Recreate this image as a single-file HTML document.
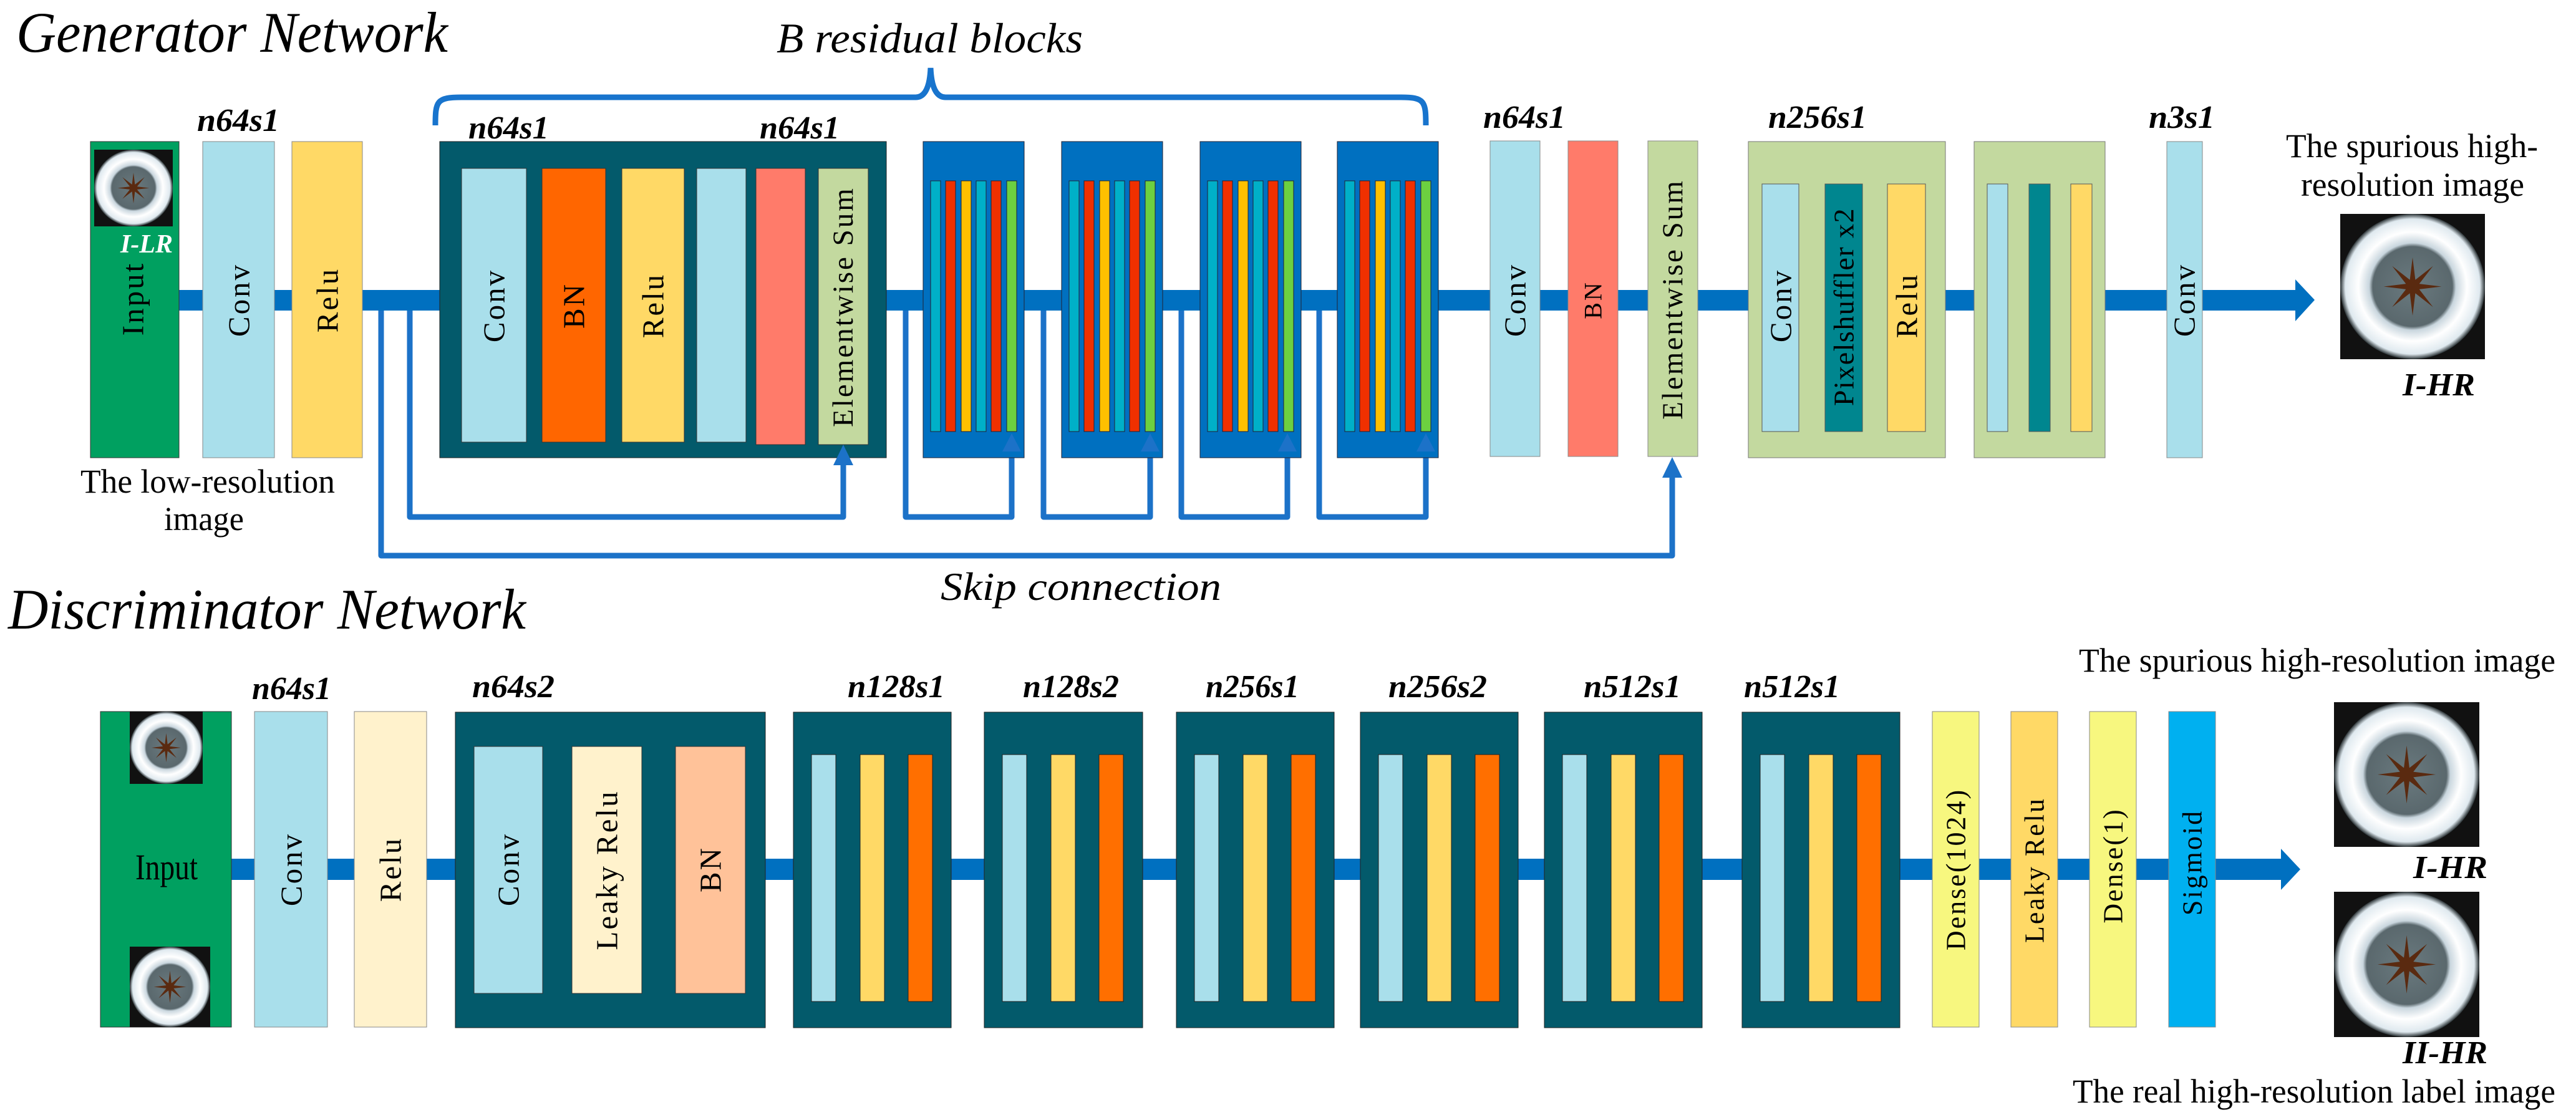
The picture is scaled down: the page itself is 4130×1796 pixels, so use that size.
<!DOCTYPE html>
<html><head><meta charset="utf-8"><style>
html,body{margin:0;padding:0;background:#fff}
svg{display:block}
text{font-family:"Liberation Serif",serif}
.v{font-size:49px;letter-spacing:3px;text-anchor:middle;dominant-baseline:central}
.lab{font-size:52px;font-weight:bold;font-style:italic}
.t{font-size:54px}
</style></head><body>
<svg width="4130" height="1796" viewBox="0 0 4130 1796" xmlns="http://www.w3.org/2000/svg" font-family="'Liberation Serif', serif">
<defs>
<radialGradient id="ring" cx="50%" cy="50%" r="50%">
<stop offset="0" stop-color="#6a7a7f"/><stop offset="0.55" stop-color="#5a686d"/>
<stop offset="0.6" stop-color="#c9d6de"/><stop offset="0.75" stop-color="#ffffff"/>
<stop offset="0.93" stop-color="#dfe9ef"/><stop offset="1" stop-color="#2a3235"/>
</radialGradient>
<symbol id="img" viewBox="0 0 100 100" preserveAspectRatio="none">
<rect width="100" height="100" fill="#111"/>
<circle cx="50" cy="50" r="50" fill="url(#ring)"/>
<polygon fill="#5a2a10" points="70,50 54.6,51.9 64.1,64.1 51.9,54.6 50,70 48.1,54.6 35.9,64.1 45.4,51.9 30,50 45.4,48.1 35.9,35.9 48.1,45.4 50,30 51.9,45.4 64.1,35.9 54.6,48.1"/>
</symbol>
</defs>

<!-- ===== Generator ===== -->
<text x="26" y="83" font-size="92" font-style="italic" textLength="692" lengthAdjust="spacingAndGlyphs">Generator Network</text>
<text x="1245" y="84" font-size="68" font-style="italic" textLength="491" lengthAdjust="spacingAndGlyphs">B residual blocks</text>
<path d="M698,201 C698,162 700,156 740,156 L1468,156 Q1490,156 1492,109 Q1494,156 1516,156 L2246,156 C2284,156 2286,162 2286,201" fill="none" stroke="#1874cd" stroke-width="9"/>

<rect x="287" y="465" width="3396" height="33" fill="#0070c0"/>
<polygon points="3680,448 3711,481 3680,515" fill="#0070c0"/>

<g fill="none" stroke="#1c72c8" stroke-width="9" stroke-linejoin="round">
<polyline points="611,498 611,891 2681,891 2681,765"/>
<polyline points="657,498 657,829 1352,829 1352,745"/>
<polyline points="1452,498 1452,829 1622,829 1622,723"/>
<polyline points="1673,498 1673,829 1844,829 1844,723"/>
<polyline points="1894,498 1894,829 2064,829 2064,723"/>
<polyline points="2115,498 2115,829 2286,829 2286,723"/>
</g>

<rect x="145" y="227" width="142" height="507" fill="#00a060" stroke="#333" stroke-width="1"/>
<use href="#img" x="151" y="240" width="126" height="123"/>
<text x="277" y="405" font-size="42" font-weight="bold" font-style="italic" fill="#fff" text-anchor="end">I-LR</text>
<text class="v" transform="translate(213,479) rotate(-90)">Input</text>
<rect x="325" y="227" width="115" height="507" fill="#a9dfeb" stroke="#888" stroke-width="1"/>
<text class="v" transform="translate(383,481) rotate(-90)">Conv</text>
<rect x="468" y="227" width="113" height="507" fill="#ffd966" stroke="#888" stroke-width="1"/>
<text class="v" transform="translate(525,481) rotate(-90)">Relu</text>
<text class="lab" x="316" y="210" textLength="132" lengthAdjust="spacingAndGlyphs">n64s1</text>

<rect x="705" y="227" width="716" height="507" fill="#035a6b" stroke="#222" stroke-width="1"/>
<rect x="740" y="270" width="104" height="439" fill="#a9dfeb" stroke="#333"/>
<text class="v" transform="translate(792,490) rotate(-90)">Conv</text>
<rect x="869" y="270" width="102" height="439" fill="#ff6600" stroke="#333"/>
<text class="v" transform="translate(920,490) rotate(-90)">BN</text>
<rect x="997" y="270" width="100" height="439" fill="#ffd966" stroke="#333"/>
<text class="v" transform="translate(1047,490) rotate(-90)">Relu</text>
<rect x="1117" y="270" width="79" height="439" fill="#a9dfeb" stroke="#333"/>
<rect x="1212" y="270" width="79" height="443" fill="#ff7b6a" stroke="#333"/>
<rect x="1312" y="270" width="80" height="443" fill="#c3d99f" stroke="#333"/>
<text class="v" transform="translate(1352,492) rotate(-90)" style="font-size:47px">Elementwise Sum</text>
<text class="lab" x="751" y="222" textLength="129" lengthAdjust="spacingAndGlyphs">n64s1</text>
<text class="lab" x="1218" y="222" textLength="128" lengthAdjust="spacingAndGlyphs">n64s1</text>

<g stroke="#223" stroke-width="1">
<rect x="1480" y="227" width="162" height="507" fill="#0070c0"/>
<rect x="1492" y="290" width="16" height="402" fill="#00b0c8"/><rect x="1516" y="290" width="16" height="402" fill="#f03000"/><rect x="1541" y="290" width="16" height="402" fill="#ffc000"/><rect x="1565" y="290" width="16" height="402" fill="#00b0c8"/><rect x="1589" y="290" width="16" height="402" fill="#f03000"/><rect x="1614" y="290" width="16" height="402" fill="#6cd040"/>
<rect x="1702" y="227" width="162" height="507" fill="#0070c0"/>
<rect x="1714" y="290" width="16" height="402" fill="#00b0c8"/><rect x="1738" y="290" width="16" height="402" fill="#f03000"/><rect x="1763" y="290" width="16" height="402" fill="#ffc000"/><rect x="1787" y="290" width="16" height="402" fill="#00b0c8"/><rect x="1811" y="290" width="16" height="402" fill="#f03000"/><rect x="1836" y="290" width="16" height="402" fill="#6cd040"/>
<rect x="1924" y="227" width="162" height="507" fill="#0070c0"/>
<rect x="1936" y="290" width="16" height="402" fill="#00b0c8"/><rect x="1960" y="290" width="16" height="402" fill="#f03000"/><rect x="1985" y="290" width="16" height="402" fill="#ffc000"/><rect x="2009" y="290" width="16" height="402" fill="#00b0c8"/><rect x="2033" y="290" width="16" height="402" fill="#f03000"/><rect x="2058" y="290" width="16" height="402" fill="#6cd040"/>
<rect x="2144" y="227" width="162" height="507" fill="#0070c0"/>
<rect x="2156" y="290" width="16" height="402" fill="#00b0c8"/><rect x="2180" y="290" width="16" height="402" fill="#f03000"/><rect x="2205" y="290" width="16" height="402" fill="#ffc000"/><rect x="2229" y="290" width="16" height="402" fill="#00b0c8"/><rect x="2253" y="290" width="16" height="402" fill="#f03000"/><rect x="2278" y="290" width="16" height="402" fill="#6cd040"/>
</g>
<g fill="#1c72c8">
<polygon points="1622,695 1607,724 1637,724"/>
<polygon points="1844,695 1829,724 1859,724"/>
<polygon points="2064,695 2049,724 2079,724"/>
<polygon points="2286,695 2271,724 2301,724"/>
<polygon points="1352,713 1336,746 1368,746"/>
<polygon points="2681,733 2665,766 2697,766"/>
</g>

<rect x="2389" y="226" width="80" height="506" fill="#a9dfeb" stroke="#888"/>
<text class="v" transform="translate(2429,481) rotate(-90)">Conv</text>
<rect x="2514" y="226" width="80" height="506" fill="#ff7b6a" stroke="#888"/>
<text class="v" transform="translate(2554,481) rotate(-90)" style="font-size:40px">BN</text>
<rect x="2642" y="226" width="80" height="506" fill="#c3d99f" stroke="#888"/>
<text class="v" transform="translate(2682,480) rotate(-90)" style="font-size:47px">Elementwise Sum</text>
<text class="lab" x="2378" y="205" textLength="132" lengthAdjust="spacingAndGlyphs">n64s1</text>

<rect x="2803" y="227" width="316" height="507" fill="#c3d99f" stroke="#777"/>
<rect x="2825" y="295" width="59" height="397" fill="#a9dfeb" stroke="#555"/>
<text class="v" transform="translate(2855,490) rotate(-90)">Conv</text>
<rect x="2926" y="295" width="60" height="397" fill="#00868f" stroke="#555"/>
<text class="v" transform="translate(2956,492) rotate(-90)" style="font-size:46px;letter-spacing:1.5px">Pixelshuffler x2</text>
<rect x="3026" y="295" width="61" height="397" fill="#ffd966" stroke="#555"/>
<text class="v" transform="translate(3057,490) rotate(-90)">Relu</text>
<text class="lab" x="2835" y="205" textLength="158" lengthAdjust="spacingAndGlyphs">n256s1</text>

<rect x="3165" y="227" width="210" height="507" fill="#c3d99f" stroke="#777"/>
<rect x="3186" y="295" width="33" height="397" fill="#a9dfeb" stroke="#555"/>
<rect x="3253" y="295" width="34" height="397" fill="#00868f" stroke="#555"/>
<rect x="3320" y="295" width="34" height="397" fill="#ffd966" stroke="#555"/>

<rect x="3474" y="227" width="57" height="507" fill="#a9dfeb" stroke="#888"/>
<text class="v" transform="translate(3502,481) rotate(-90)">Conv</text>
<text class="lab" x="3445" y="205" textLength="106" lengthAdjust="spacingAndGlyphs">n3s1</text>

<text class="t" x="3665" y="252" textLength="404" lengthAdjust="spacingAndGlyphs">The spurious high-</text>
<text class="t" x="3689" y="314" textLength="358" lengthAdjust="spacingAndGlyphs">resolution image</text>
<use href="#img" x="3752" y="343" width="232" height="233"/>
<text class="lab" x="3852" y="634" textLength="116" lengthAdjust="spacingAndGlyphs">I-HR</text>

<text class="t" x="129" y="790" textLength="408" lengthAdjust="spacingAndGlyphs">The low-resolution</text>
<text class="t" x="263" y="850" textLength="128" lengthAdjust="spacingAndGlyphs">image</text>
<text x="1508" y="962" font-size="64" font-style="italic" textLength="450" lengthAdjust="spacingAndGlyphs">Skip connection</text>

<!-- ===== Discriminator ===== -->
<text x="13" y="1008" font-size="92" font-style="italic" textLength="830" lengthAdjust="spacingAndGlyphs">Discriminator Network</text>
<rect x="371" y="1377" width="3290" height="34" fill="#0070c0"/>
<polygon points="3657,1361 3688,1394 3657,1427" fill="#0070c0"/>

<rect x="161" y="1141" width="210" height="506" fill="#00a060" stroke="#333"/>
<use href="#img" x="208" y="1141" width="117" height="116"/>
<use href="#img" x="208" y="1518" width="129" height="129"/>
<text x="267" y="1410" font-size="58" text-anchor="middle" textLength="100" lengthAdjust="spacingAndGlyphs">Input</text>
<rect x="408" y="1141" width="117" height="506" fill="#a9dfeb" stroke="#888"/>
<text class="v" transform="translate(467,1394) rotate(-90)">Conv</text>
<rect x="568" y="1141" width="116" height="506" fill="#fff2cc" stroke="#888"/>
<text class="v" transform="translate(626,1394) rotate(-90)">Relu</text>
<text class="lab" x="404" y="1121" textLength="127" lengthAdjust="spacingAndGlyphs">n64s1</text>

<rect x="730" y="1142" width="497" height="506" fill="#035a6b" stroke="#222"/>
<rect x="760" y="1197" width="110" height="396" fill="#a9dfeb" stroke="#333"/>
<text class="v" transform="translate(815,1394) rotate(-90)">Conv</text>
<rect x="917" y="1197" width="112" height="396" fill="#fff2cc" stroke="#333"/>
<text class="v" transform="translate(973,1395) rotate(-90)">Leaky Relu</text>
<rect x="1083" y="1197" width="112" height="396" fill="#ffc299" stroke="#333"/>
<text class="v" transform="translate(1139,1394) rotate(-90)">BN</text>
<text class="lab" x="757" y="1118" textLength="132" lengthAdjust="spacingAndGlyphs">n64s2</text>

<g stroke="#222" stroke-width="1">
<rect x="1272" y="1142" width="253" height="506" fill="#035a6b"/><rect x="1301" y="1210" width="39" height="396" fill="#a9dfeb"/><rect x="1379" y="1210" width="39" height="396" fill="#ffd966"/><rect x="1456" y="1210" width="39" height="396" fill="#ff6f00"/>
<rect x="1578" y="1142" width="254" height="506" fill="#035a6b"/><rect x="1607" y="1210" width="39" height="396" fill="#a9dfeb"/><rect x="1685" y="1210" width="39" height="396" fill="#ffd966"/><rect x="1762" y="1210" width="39" height="396" fill="#ff6f00"/>
<rect x="1886" y="1142" width="253" height="506" fill="#035a6b"/><rect x="1915" y="1210" width="39" height="396" fill="#a9dfeb"/><rect x="1993" y="1210" width="39" height="396" fill="#ffd966"/><rect x="2070" y="1210" width="39" height="396" fill="#ff6f00"/>
<rect x="2181" y="1142" width="253" height="506" fill="#035a6b"/><rect x="2210" y="1210" width="39" height="396" fill="#a9dfeb"/><rect x="2288" y="1210" width="39" height="396" fill="#ffd966"/><rect x="2365" y="1210" width="39" height="396" fill="#ff6f00"/>
<rect x="2476" y="1142" width="253" height="506" fill="#035a6b"/><rect x="2505" y="1210" width="39" height="396" fill="#a9dfeb"/><rect x="2583" y="1210" width="39" height="396" fill="#ffd966"/><rect x="2660" y="1210" width="39" height="396" fill="#ff6f00"/>
<rect x="2793" y="1142" width="253" height="506" fill="#035a6b"/><rect x="2822" y="1210" width="39" height="396" fill="#a9dfeb"/><rect x="2900" y="1210" width="39" height="396" fill="#ffd966"/><rect x="2977" y="1210" width="39" height="396" fill="#ff6f00"/>
</g>
<text class="lab" x="1359" y="1118" textLength="156" lengthAdjust="spacingAndGlyphs">n128s1</text>
<text class="lab" x="1640" y="1118" textLength="154" lengthAdjust="spacingAndGlyphs">n128s2</text>
<text class="lab" x="1933" y="1118" textLength="150" lengthAdjust="spacingAndGlyphs">n256s1</text>
<text class="lab" x="2226" y="1118" textLength="158" lengthAdjust="spacingAndGlyphs">n256s2</text>
<text class="lab" x="2539" y="1118" textLength="156" lengthAdjust="spacingAndGlyphs">n512s1</text>
<text class="lab" x="2796" y="1118" textLength="154" lengthAdjust="spacingAndGlyphs">n512s1</text>

<rect x="3098" y="1141" width="75" height="506" fill="#f7f77f" stroke="#888"/>
<text class="v" transform="translate(3136,1394) rotate(-90)" style="font-size:44px">Dense(1024)</text>
<rect x="3224" y="1141" width="75" height="506" fill="#ffd966" stroke="#888"/>
<text class="v" transform="translate(3262,1395) rotate(-90)" style="font-size:44px">Leaky Relu</text>
<rect x="3350" y="1141" width="75" height="506" fill="#f7f77f" stroke="#888"/>
<text class="v" transform="translate(3388,1388) rotate(-90)" style="font-size:44px">Dense(1)</text>
<rect x="3477" y="1141" width="75" height="506" fill="#00b0f0" stroke="#888"/>
<text class="v" transform="translate(3515,1383) rotate(-90)" style="font-size:44px">Sigmoid</text>

<text class="t" x="3333" y="1077" textLength="764" lengthAdjust="spacingAndGlyphs">The spurious high-resolution image</text>
<use href="#img" x="3742" y="1126" width="233" height="232"/>
<text class="lab" x="3869" y="1408" textLength="119" lengthAdjust="spacingAndGlyphs">I-HR</text>
<use href="#img" x="3742" y="1430" width="233" height="233"/>
<text class="lab" x="3852" y="1705" textLength="136" lengthAdjust="spacingAndGlyphs">II-HR</text>
<text class="t" x="3323" y="1768" textLength="774" lengthAdjust="spacingAndGlyphs">The real high-resolution label image</text>
</svg>
</body></html>
